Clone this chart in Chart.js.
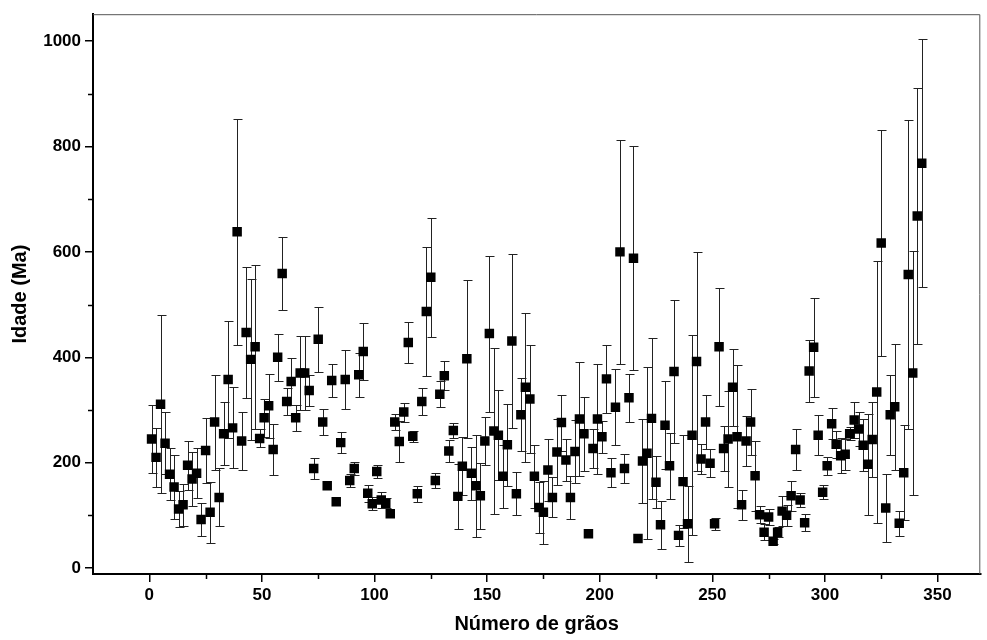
<!DOCTYPE html>
<html>
<head>
<meta charset="utf-8">
<script src="https://cdn.jsdelivr.net/npm/chart.js@4/dist/chart.umd.min.js"></script>
<style>
  html, body { margin: 0; padding: 0; background: #fff; }
  #wrap { width: 987px; height: 640px; }
</style>
</head>
<body>
<div id="wrap"><canvas id="chart" width="987" height="640"></canvas></div>
<script>
// grain number (x) of each analysed zircon
const grainNo = [
  1, 3, 5, 7, 9, 11, 13, 15, 17, 19, 21, 23, 25, 27, 29, 31, 33, 35, 37, 39,
  41, 43, 45, 47, 49, 51, 53, 55, 57, 59, 61, 63, 65, 67, 69, 71, 73, 75, 77, 79,
  81, 83, 85, 87, 89, 91, 93, 95, 97, 99, 101, 103, 105, 107, 109, 111, 113, 115, 117, 119,
  121, 123, 125, 127, 129, 131, 133, 135, 137, 139, 141, 143, 145, 147, 149, 151, 153, 155, 157, 159,
  161, 163, 165, 167, 169, 171, 173, 175, 177, 179, 181, 183, 185, 187, 189, 191, 193, 195, 197, 199,
  201, 203, 205, 207, 209, 211, 213, 215, 217, 219, 221, 223, 225, 227, 229, 231, 233, 235, 237, 239,
  241, 243, 245, 247, 249, 251, 253, 255, 257, 259, 261, 263, 265, 267, 269, 271, 273, 275, 277, 279,
  281, 283, 285, 287, 289, 291, 293, 295, 297, 299, 301, 303, 305, 307, 309, 311, 313, 315, 317, 319,
  321, 323, 325, 327, 329, 331, 333, 335, 337, 339, 341, 343
];

// age (Ma)
const ages = [
  245, 210, 311, 237, 178, 154, 112, 120, 195, 169, 180, 92, 223, 106, 277, 134, 255, 358, 266, 638,
  241, 447, 396, 420, 246, 285, 308, 225, 400, 559, 316, 354, 285, 370, 370, 337, 189, 434, 277, 156,
  356, 126, 238, 358, 166, 189, 367, 411, 142, 122, 183, 129, 123, 103, 277, 240, 296, 428, 250, 141,
  316, 487, 552, 166, 330, 365, 222, 261, 136, 193, 397, 180, 156, 137, 241, 445, 260, 252, 174, 234,
  431, 141, 291, 343, 321, 174, 115, 106, 186, 134, 220, 276, 205, 134, 221, 283, 255, 65, 227, 283,
  249, 359, 181, 305, 600, 189, 323, 588, 56, 203, 218, 284, 163, 82, 271, 194, 373, 62, 164, 84,
  252, 392, 207, 277, 199, 84, 420, 227, 245, 343, 249, 120, 241, 277, 175, 101, 68, 97, 51, 68,
  108, 100, 137, 225, 129, 86, 374, 419, 252, 144, 194, 274, 235, 213, 216, 255, 281, 264, 233, 197,
  244, 334, 617, 114, 291, 306, 85, 181, 557, 370, 668, 768
];

// error (+/- Ma)
const ageErrors = [
  64, 56, 169, 59, 49, 61, 35, 40, 47, 52, 47, 32, 62, 58, 90, 55, 60, 111, 77, 215,
  55, 125, 153, 156, 17, 36, 61, 49, 45, 70, 26, 45, 25, 71, 71, 30, 20, 62, 25, 0,
  31, 0, 20, 56, 12, 12, 42, 54, 16, 12, 12, 15, 10, 0, 15, 39, 18, 38, 10, 15,
  26, 123, 113, 15, 25, 27, 21, 15, 61, 55, 150, 50, 97, 63, 46, 148, 158, 85, 60, 78,
  165, 41, 69, 141, 102, 60, 48, 60, 58, 38, 63, 53, 40, 40, 60, 108, 70, 0, 37, 104,
  30, 65, 28, 72, 213, 27, 46, 212, 0, 80, 163, 153, 49, 45, 83, 63, 136, 20, 88, 72,
  190, 208, 28, 52, 26, 11, 112, 42, 91, 73, 136, 28, 48, 62, 66, 16, 15, 15, 5, 10,
  28, 20, 28, 39, 14, 16, 58, 94, 38, 13, 17, 30, 26, 33, 29, 12, 34, 32, 49, 96,
  71, 248, 214, 64, 76, 119, 24, 90, 293, 232, 243, 235
];

const xTicks = [0, 50, 100, 150, 200, 250, 300, 350];
const xMinorTicks = [-25, 25, 75, 125, 175, 225, 275, 325];
const yTicks = [0, 200, 400, 600, 800, 1000];
const yMinorTicks = [100, 300, 500, 700, 900];

const points = grainNo.map((g, i) => ({ x: g, y: ages[i] }));

// Draw the vertical error bars under the squares
const errorBars = {
  id: 'errorBars',
  beforeDatasetsDraw(chart) {
    const ctx = chart.ctx;
    const xs = chart.scales.x;
    const ys = chart.scales.y;
    ctx.save();
    ctx.strokeStyle = '#222';
    ctx.lineWidth = 1;
    ages.forEach((v, i) => {
      const e = ageErrors[i];
      if (!e) return;
      const px = Math.round(xs.getPixelForValue(grainNo[i])) + 0.5;
      const top = Math.round(ys.getPixelForValue(v + e)) + 0.5;
      const bot = Math.round(ys.getPixelForValue(v - e)) + 0.5;
      ctx.beginPath();
      ctx.moveTo(px, top); ctx.lineTo(px, bot);
      ctx.moveTo(px - 4, top); ctx.lineTo(px + 5, top);
      ctx.moveTo(px - 4, bot); ctx.lineTo(px + 5, bot);
      ctx.stroke();
    });
    ctx.restore();
  }
};

// Frame on top/right and the minor ticks
const frame = {
  id: 'frame',
  afterDraw(chart) {
    const ctx = chart.ctx;
    const a = chart.chartArea;
    const xs = chart.scales.x;
    const ys = chart.scales.y;
    ctx.save();
    ctx.strokeStyle = '#555';
    ctx.lineWidth = 1;
    ctx.beginPath();
    ctx.moveTo(a.left, a.top + 0.5); ctx.lineTo(a.right - 0.5, a.top + 0.5);
    ctx.lineTo(a.right - 0.5, a.bottom);
    ctx.stroke();
    ctx.strokeStyle = '#000';
    ctx.lineWidth = 1.5;
    ctx.beginPath();
    xMinorTicks.forEach(v => {
      const px = Math.round(xs.getPixelForValue(v)) + 0.5;
      if (px < a.left + 2) return;
      ctx.moveTo(px, a.bottom); ctx.lineTo(px, a.bottom + 5);
    });
    yMinorTicks.forEach(v => {
      const py = Math.round(ys.getPixelForValue(v)) + 0.5;
      ctx.moveTo(a.left, py); ctx.lineTo(a.left - 5, py);
    });
    ctx.stroke();
    ctx.restore();
  }
};

const tickFont = { family: 'Liberation Sans', weight: 'bold', size: 17 };
const titleFont = { family: 'Liberation Sans', weight: 'bold', size: 20 };

new Chart(document.getElementById('chart'), {
  type: 'scatter',
  data: {
    datasets: [{
      data: points,
      pointStyle: 'rect',
      pointRadius: 6.7,
      pointHoverRadius: 6.7,
      backgroundColor: '#000',
      borderColor: '#000',
      borderWidth: 0
    }]
  },
  options: {
    responsive: false,
    animation: false,
    events: [],
    layout: { padding: { top: 10, right: 2, left: 0, bottom: 0 } },
    plugins: { legend: { display: false }, tooltip: { enabled: false } },
    scales: {
      x: {
        type: 'linear',
        min: -25,
        max: 369,
        afterBuildTicks: s => { s.ticks = xTicks.map(v => ({ value: v })); },
        afterFit: s => { s.height = 66; },
        grid: { drawOnChartArea: false, tickLength: 8, color: '#000', lineWidth: 1.5 },
        border: { color: '#000', width: 2 },
        ticks: { color: '#000', font: tickFont, padding: 3, maxRotation: 0, callback: v => String(v) },
        title: { display: true, text: 'Número de grãos', color: '#000', font: titleFont, padding: { top: 2, bottom: 4 } }
      },
      y: {
        type: 'linear',
        min: -11.3,
        max: 1051,
        afterBuildTicks: s => { s.ticks = yTicks.map(v => ({ value: v })); },
        afterFit: s => { s.width = 93; },
        grid: { drawOnChartArea: false, tickLength: 8, color: '#000', lineWidth: 1.5 },
        border: { color: '#000', width: 2 },
        ticks: { color: '#000', font: tickFont, padding: 4, callback: v => String(v) },
        title: { display: true, text: 'Idade (Ma)', color: '#000', font: titleFont, padding: { top: 8, bottom: 4 } }
      }
    }
  },
  plugins: [errorBars, frame]
});
</script>
</body>
</html>
